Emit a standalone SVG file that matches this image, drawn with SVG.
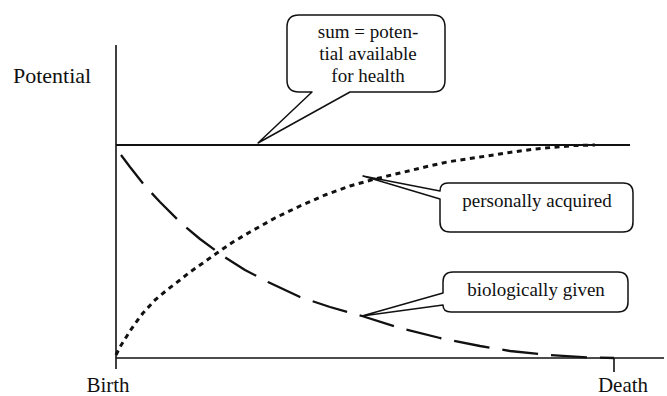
<svg xmlns="http://www.w3.org/2000/svg" width="667" height="396" viewBox="0 0 667 396">
<style>
  .lbl { font-family: "Liberation Serif", "Times New Roman", serif; fill: #111; }
  .ax { stroke: #111; stroke-width: 1.6; fill: none; }
  .sum { stroke: #111; stroke-width: 2.2; fill: none; }
  .dot { stroke: #111; stroke-width: 3; fill: none; stroke-dasharray: 5 4.5; stroke-linejoin: round; }
  .dash { stroke: #111; stroke-width: 2.3; fill: none; stroke-dasharray: 36 13; stroke-linejoin: round; }
  .call { fill: #fff; stroke: #111; stroke-width: 1.5; stroke-linejoin: round; }
  .ct { font-family: "Liberation Serif", "Times New Roman", serif; font-size: 19px; fill: #111; text-anchor: middle; }
</style>
<rect width="667" height="396" fill="#fff"/>
<g id="axes">
  <line class="ax" x1="116" y1="45" x2="116" y2="369"/>
  <line class="ax" x1="116" y1="358" x2="664" y2="358"/>
  <line class="ax" x1="614" y1="358" x2="614" y2="372"/>
  <text class="lbl" x="13" y="83" font-size="22">Potential</text>
  <text class="lbl" x="108" y="392" font-size="21" text-anchor="middle">Birth</text>
  <text class="lbl" x="623" y="392" font-size="21" text-anchor="middle">Death</text>
</g>
<g id="connectors">
  <path id="personally-acquired-curve" class="dot" d="M116,355 L120,347 L125,339 L130,331 L137,321 L143,313 L155,300 L167,290 L180,280 L190,272 L203,263 L217,253 L233,242 L250,232 L275,218 L300,206 L325,195 L350,186 L375,179 L400,173 L425,167 L447,162 L480,157 L513,152 L535,149 L557,147 L575,145.5 L595,145"/>
  <path id="biologically-given-curve" class="dash" d="M121,155 L130,167 L145,186 L160,202 L182,224 L200,239 L223,256 L245,270 L268,282 L300,297 L330,307 L362,316 L400,328 L440,338 L480,346 L510,351 L550,355 L590,357.5 L614,358"/>
  <line id="sum-line" class="sum" x1="116" y1="145" x2="630" y2="145"/>
</g>
<g id="callout-sum">
  <path class="call" d="M299,15 H433 Q445,15 445,27 V80 Q445,92 433,92 H350 L258,143 L312,92 H299 Q287,92 287,80 V27 Q287,15 299,15 Z"/>
  <text class="ct" x="368" y="38">sum = poten-</text>
  <text class="ct" x="368" y="60">tial available</text>
  <text class="ct" x="368" y="82">for health</text>
</g>
<g id="callout-personal">
  <path class="call" d="M448,183 H623 Q633,183 633,193 V222 Q633,232 623,232 H450 Q440,232 440,222 V199 L363,176 L440,191 Q440,183 448,183 Z"/>
  <text class="ct" x="537" y="207">personally acquired</text>
</g>
<g id="callout-biological">
  <path class="call" d="M453,272 H618 Q628,272 628,282 V302 Q628,312 618,312 H451 Q443,312 443,305 L362,316 L443,293 V282 Q443,272 453,272 Z"/>
  <text class="ct" x="536" y="296">biologically given</text>
</g>
</svg>
